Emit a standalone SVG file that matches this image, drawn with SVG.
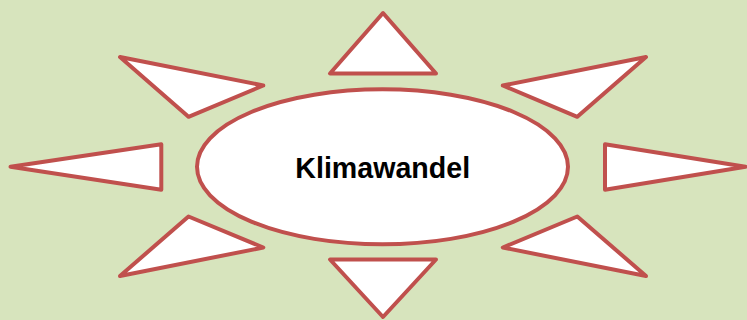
<svg xmlns="http://www.w3.org/2000/svg" width="747" height="320" viewBox="0 0 747 320">
<style>
.ray{fill:#FFFFFF;stroke:#C0504D;stroke-width:4;stroke-linejoin:round}
.core{fill:#FFFFFF;stroke:#C0504D;stroke-width:4}
.lbl{font-family:"Liberation Sans",Arial,sans-serif;font-weight:bold;font-size:28.6px;fill:#000000}
</style>
<rect x="0" y="0" width="747" height="320" fill="#D7E4BD"/>
<g id="ray-top"><polygon class="ray" points="383,13 330,73.5 436,73.5"/></g>
<g id="ray-bottom"><polygon class="ray" points="330,259.5 436,259.5 383,317"/></g>
<g id="ray-left"><polygon class="ray" points="10.5,166.7 161.3,144.3 161.3,189.7"/></g>
<g id="ray-right"><polygon class="ray" points="745.5,166.7 605,144.3 605,189.7"/></g>
<g id="ray-upper-left"><polygon class="ray" points="120,57 263.3,85.5 188.5,116.8"/></g>
<g id="ray-upper-right"><polygon class="ray" points="646,57 502.8,85.5 577.3,116.8"/></g>
<g id="ray-lower-left"><polygon class="ray" points="188.5,216.5 263.3,247.5 120,276"/></g>
<g id="ray-lower-right"><polygon class="ray" points="577.3,216.5 502.8,247.5 646,276"/></g>
<g id="center">
<ellipse class="core" cx="382.5" cy="166.8" rx="185.5" ry="77.5"/>
<text class="lbl" x="382.7" y="178.3" text-anchor="middle">Klimawandel</text>
</g>
<g id="connectors"></g>
</svg>
